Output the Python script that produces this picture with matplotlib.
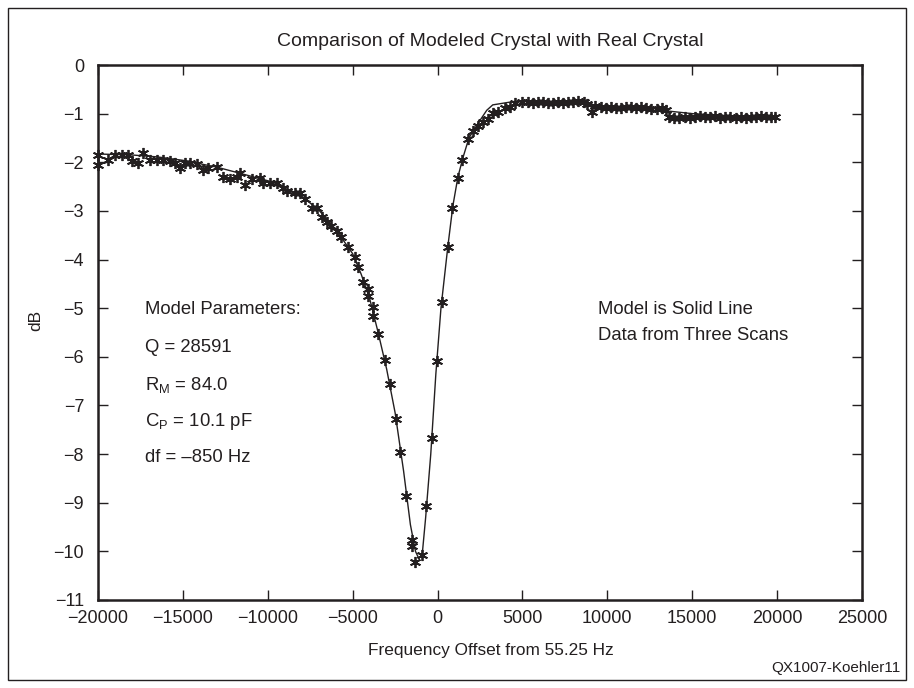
import matplotlib
matplotlib.use("Agg")
import matplotlib.pyplot as plt
from matplotlib.patches import Rectangle

plt.rcParams['font.family'] = ['Liberation Sans', 'DejaVu Sans']
plt.rcParams['mathtext.default'] = 'regular'

INK = '#231f20'

# ---- model (solid line) ----
model_freq = [-20000, -18000, -16500, -15000, -13000, -11600, -10000, -8900, -8000, -7000,
              -6000, -5000, -4500, -4000, -3500, -3000, -2500, -2000, -1600, -1300,
              -1100, -900, -700, -400, -100, 200, 600, 900, 1200, 1500,
              1850, 2400, 2900, 3250, 4500, 6000, 8800, 9200, 13400, 15000,
              17000, 19850]
model_db = [-1.83, -1.85, -1.89, -1.96, -2.10, -2.23, -2.38, -2.56, -2.70, -2.98,
            -3.38, -3.88, -4.30, -4.80, -5.50, -6.25, -7.15, -8.35, -9.45, -10.00,
            -10.15, -10.05, -9.30, -8.00, -6.35, -5.00, -3.75, -2.90, -2.30, -1.90,
            -1.50, -1.19, -0.93, -0.82, -0.75, -0.76, -0.78, -0.87, -0.94, -1.00,
            -1.04, -1.06]

# ---- measured data (three scans) ----
scan_freq = [-20000, -20000, -19410, -19000, -18600, -18240, -18020, -17650, -17350, -16940,
             -16540, -16170, -15770, -15470, -15170, -14880, -14580, -14190, -13820, -13520,
             -13010, -12640, -12230, -11830, -11640, -11340, -10950, -10460, -10280, -9870,
             -9480, -9110, -8890, -8400, -8100, -7800, -7420, -7130, -6830, -6540,
             -6250, -5950, -5660, -5290, -4880, -4700, -4400, -4110, -4110, -3820,
             -3820, -3520, -3100, -2800, -2450, -2210, -1860, -1530, -1530, -1330,
             -940, -690, -350, -60, 240, 630, 870, 1180, 1450, 1810,
             2100, 2400, 2690, 2990, 3280, 3580, 3970, 4260, 4560,
             5000, 5300, 5600, 5900, 6200, 6500, 6800, 7100, 7400, 7700,
             8000, 8300, 8600, 8800, 9070,
             9300, 9600, 9900, 10200, 10500, 10800, 11100, 11400, 11700, 12000,
             12300, 12600, 12900, 13200, 13450,
             13650, 13950, 14250, 14550, 14850, 15150, 15450, 15750, 16050, 16350,
             16650, 16950, 17250, 17550, 17850, 18150, 18450, 18750, 19050, 19350,
             19650, 19850]
scan_db = [-1.85, -2.05, -1.95, -1.85, -1.85, -1.85, -1.97, -2.01, -1.81, -1.95,
           -1.95, -1.95, -1.97, -2.01, -2.12, -2.01, -2.01, -2.04, -2.16, -2.12,
           -2.10, -2.30, -2.34, -2.30, -2.22, -2.47, -2.34, -2.32, -2.43, -2.43,
           -2.43, -2.53, -2.60, -2.64, -2.64, -2.76, -2.95, -2.95, -3.13, -3.23,
           -3.31, -3.41, -3.54, -3.75, -3.95, -4.16, -4.47, -4.61, -4.75, -4.98,
           -5.16, -5.54, -6.06, -6.56, -7.28, -7.96, -8.86, -9.77, -9.89, -10.22,
           -10.07, -9.07, -7.67, -6.09, -4.87, -3.74, -2.95, -2.33, -1.95, -1.53,
           -1.36, -1.25, -1.17, -1.10, -0.98, -0.96, -0.89, -0.86, -0.78,
           -0.77, -0.76, -0.78, -0.77, -0.76, -0.78, -0.79, -0.76, -0.78, -0.77,
           -0.76, -0.74, -0.77, -0.80, -0.96,
           -0.85, -0.87, -0.88, -0.86, -0.88, -0.89, -0.86, -0.87, -0.88, -0.87,
           -0.88, -0.90, -0.91, -0.89, -0.92,
           -1.07, -1.09, -1.08, -1.07, -1.08, -1.06, -1.04, -1.06, -1.07, -1.05,
           -1.08, -1.06, -1.07, -1.09, -1.06, -1.08, -1.06, -1.07, -1.05, -1.06,
           -1.07, -1.06]

x_ticks = [-20000, -15000, -10000, -5000, 0, 5000, 10000, 15000, 20000, 25000]
y_ticks = list(range(0, -12, -1))

W, H = 914, 688
fig = plt.figure(figsize=(W / 100, H / 100), dpi=100)

# outer frame
fig.patches.append(Rectangle((8 / W, 8 / H), (906 - 8) / W, (680 - 8) / H,
                             transform=fig.transFigure, fill=False,
                             edgecolor=INK, linewidth=1.0))

ax = fig.add_axes([98 / W, (H - 600) / H, (862 - 98) / W, (600 - 65) / H])
ax.plot(model_freq, model_db, color=INK, linewidth=1.0, zorder=2)
ax.plot(scan_freq, scan_db, linestyle='none', marker=(6, 2, 0), markersize=8,
        markeredgewidth=1.3, color=INK, zorder=3, clip_on=False)

ax.set_xlim(-20000, 25000)
ax.set_ylim(-11, 0)
ax.set_xticks(x_ticks)
ax.set_yticks(y_ticks)
ax.tick_params(direction='in', length=7, width=1.0, colors=INK, labelsize=13,
               top=True, right=True)
ax.tick_params(axis='x', pad=7)
ax.tick_params(axis='y', pad=10)
for sp in ax.spines.values():
    sp.set_linewidth(1.8)
    sp.set_color(INK)

fig.text(490 / W, 1 - 42 / H, 'Comparison of Modeled Crystal with Real Crystal',
         ha='center', va='center', fontsize=14, color=INK)
fig.text(491 / W, 1 - 650 / H, 'Frequency Offset from 55.25 Hz',
         ha='center', va='center', fontsize=12.4, color=INK)
fig.text(900 / W, 1 - 668 / H, 'QX1007-Koehler11',
         ha='right', va='center', fontsize=11, color=INK)
fig.text(36 / W, 1 - 320 / H, 'dB', ha='center', va='center', rotation=90,
         fontsize=12.5, color=INK)

params = ['Model Parameters:', 'Q = 28591', 'R$_M$ = 84.0', 'C$_P$ = 10.1 pF', 'df = \u2013850 Hz']
params_y = [310, 348, 385, 421, 458]
for t, yy in zip(params, params_y):
    fig.text(145 / W, 1 - yy / H, t, ha='left', va='center', fontsize=13.3, color=INK)

notes = ['Model is Solid Line', 'Data from Three Scans']
notes_y = [310, 335]
for t, yy in zip(notes, notes_y):
    fig.text(598 / W, 1 - yy / H, t, ha='left', va='center', fontsize=13.3, color=INK)

fig.savefig('out.png', dpi=100)
